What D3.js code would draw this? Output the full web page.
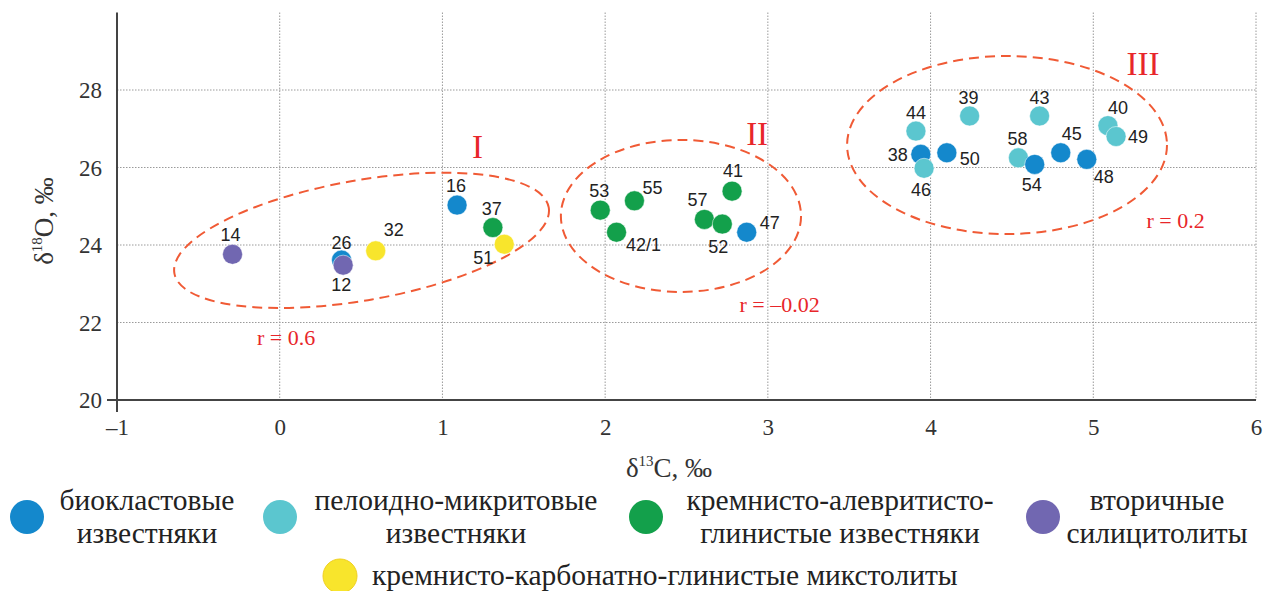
<!DOCTYPE html>
<html><head><meta charset="utf-8">
<script src="https://cdn.jsdelivr.net/npm/d3@7"></script>
<style>
body{margin:0;background:#fff;}
svg{display:block;}
</style></head>
<body>
<svg id="chart" width="1268" height="591"></svg>
<script>
// ---- data ----
const xTicks = [-1, 0, 1, 2, 3, 4, 5, 6];
const yTicks = [20, 22, 24, 26, 28];
const xTickLabels = ["–1", "0", "1", "2", "3", "4", "5", "6"];
const groups = ["bio", "pel", "krem", "vtor", "mikst"];
const groupColors = ["#1488cc", "#5bc6cf", "#13a04b", "#7167b1", "#f8e52c"];
const legendLines = [
  ["биокластовые", "известняки"],
  ["пелоидно-микритовые", "известняки"],
  ["кремнисто-алевритисто-", "глинистые известняки"],
  ["вторичные", "силицитолиты"],
  ["кремнисто-карбонатно-глинистые микстолиты"]
];
const sampleIds = ["14","26","12","32","16","37","51","53","55","42/1","57","52","41","47",
                   "44","38","46","39","50","43","58","54","45","48","40","49"];
const sampleGroup = ["vtor","bio","vtor","mikst","bio","krem","mikst","krem","krem","krem","krem","krem","krem","bio",
                     "pel","bio","pel","pel","bio","pel","pel","bio","bio","bio","pel","pel"];
const d13C = [-0.29, 0.38, 0.39, 0.59, 1.09, 1.31, 1.38, 1.97, 2.18, 2.07, 2.61, 2.72, 2.78, 2.87,
              3.91, 3.94, 3.96, 4.24, 4.10, 4.67, 4.54, 4.64, 4.80, 4.96, 5.09, 5.14];
const d18O = [23.76, 23.61, 23.48, 23.85, 25.03, 24.45, 24.02, 24.90, 25.14, 24.33, 24.66, 24.54, 25.39, 24.33,
              26.94, 26.34, 25.98, 27.33, 26.38, 27.33, 26.25, 26.08, 26.38, 26.21, 27.08, 26.80];
// clusters (ellipses) in data units
const clusterNames = ["I", "II", "III"];
const clusterCx = [0.503, 2.466, 4.470];
const clusterCy = [24.12, 24.75, 26.58];
const clusterRx = [1.168, 0.738, 0.983];
const clusterRy = [1.548, 1.961, 2.297];
const clusterAngle = [-10, 0, 0];
const clusterLabelX = [1.216, 2.934, 5.306];
const clusterLabelY = [26.25, 26.58, 28.39];
const corrText = ["r = 0.6", "r = –0.02", "r = 0.2"];
const corrX = [0.039, 3.072, 5.506];
const corrY = [21.42, 22.27, 24.44];

// ---- layout / style (not data) ----
const labelOffset = {
  "14":[-2,-20],"26":[0,-18],"12":[-2,19],"32":[18,-21],"16":[-1,-20],"37":[-1,-19],"51":[-21,13],
  "53":[-1,-20],"55":[18,-13],"42/1":[27,12],"57":[-7,-20],"52":[-4,22],"41":[1,-21],"47":[23,-10],
  "44":[0,-19],"38":[-23,0],"46":[-3,21],"39":[-1,-18],"50":[23,6],"43":[0,-18],"58":[-1,-19],
  "54":[-3,20],"45":[11,-19],"48":[17,17],"40":[10,-18],"49":[22,0]
};
const legendPos = [[27,517,147],[280,517,456],[646,517,840],[1043,517,1157],[340,576,372]];

const svg = d3.select("#chart");
const x = d3.scaleLinear().domain([-1, 6]).range([117, 1256]);
const y = d3.scaleLinear().domain([20, 30]).range([400, 12.5]);
const color = d3.scaleOrdinal().domain(groups).range(groupColors);
const serif = "Liberation Serif, Times New Roman, DejaVu Serif, serif";
const sans = "Liberation Sans, Arial, sans-serif";

// grid
const grid = svg.append("g");
grid.selectAll(".vg").data(xTicks.slice(1)).join("line")
  .attr("x1", d => x(d)).attr("x2", d => x(d))
  .attr("y1", y(30)).attr("y2", y(20))
  .attr("stroke", "#9a9a9a").attr("stroke-width", 1).attr("stroke-dasharray", "1.5,1.5");
grid.selectAll(".hg").data(yTicks.slice(1)).join("line")
  .attr("x1", x(-1)).attr("x2", x(6))
  .attr("y1", d => y(d)).attr("y2", d => y(d))
  .attr("stroke", "#9a9a9a").attr("stroke-width", 1).attr("stroke-dasharray", "1.5,1.5");

// axes
const xAxis = d3.axisBottom(x).tickValues(xTicks).tickSize(0).tickPadding(0)
  .tickFormat((d, i) => xTickLabels[i]);
const gx = svg.append("g").attr("transform", `translate(0,${y(20)})`).call(xAxis);
gx.attr("font-family", serif);
gx.select(".domain").remove();
gx.selectAll("text").style("font-family", serif).attr("font-size", 23).attr("fill", "#333")
  .attr("dy", "1.52em");
const yAxis = d3.axisLeft(y).tickValues(yTicks).tickSize(0).tickPadding(15);
const gy = svg.append("g").attr("transform", `translate(${x(-1)},0)`).call(yAxis);
gy.attr("font-family", serif);
gy.select(".domain").remove();
gy.selectAll("text").style("font-family", serif).attr("font-size", 23).attr("fill", "#333")
  .attr("dy", "0.34em");
svg.append("line").attr("x1", x(-1) - 10).attr("x2", x(6)).attr("y1", y(20)).attr("y2", y(20))
  .attr("stroke", "#444").attr("stroke-width", 2);
svg.append("line").attr("x1", x(-1)).attr("x2", x(-1)).attr("y1", y(30)).attr("y2", y(20) + 12)
  .attr("stroke", "#444").attr("stroke-width", 2);

// axis titles
const xt = svg.append("text").attr("x", 669).attr("y", 477).attr("text-anchor", "middle")
  .style("font-family", serif).attr("font-size", 27).attr("fill", "#333");
xt.append("tspan").text("δ");
xt.append("tspan").attr("font-size", 15).attr("dy", -11).text("13");
xt.append("tspan").attr("dy", 11).text("C, ‰");
const yt = svg.append("text").attr("transform", "translate(53,221) rotate(-90)").attr("text-anchor", "middle")
  .style("font-family", serif).attr("font-size", 27).attr("fill", "#333");
yt.append("tspan").text("δ");
yt.append("tspan").attr("font-size", 15).attr("dy", -11).text("18");
yt.append("tspan").attr("dy", 11).text("O, ‰");

// cluster ellipses
const clusters = clusterNames.map((n, i) => ({n, i}));
const kx = x(1) - x(0), ky = y(20) - y(21);
svg.append("g").selectAll("ellipse").data(clusters).join("ellipse")
  .attr("transform", d => `translate(${x(clusterCx[d.i])},${y(clusterCy[d.i])}) rotate(${clusterAngle[d.i]})`)
  .attr("rx", d => clusterRx[d.i] * kx).attr("ry", d => clusterRy[d.i] * ky)
  .attr("fill", "none").attr("stroke", "#f05a35").attr("stroke-width", 2)
  .attr("stroke-dasharray", "10,6");
svg.append("g").selectAll("text").data(clusters).join("text")
  .attr("x", d => x(clusterLabelX[d.i])).attr("y", d => y(clusterLabelY[d.i]))
  .attr("text-anchor", "middle").style("font-family", serif).attr("font-size", 33)
  .attr("fill", "#e8262a").text(d => d.n);
svg.append("g").selectAll("text").data(clusters).join("text")
  .attr("x", d => x(corrX[d.i])).attr("y", d => y(corrY[d.i]))
  .attr("text-anchor", "middle").style("font-family", serif).attr("font-size", 22)
  .attr("fill", "#e8262a").text(d => corrText[d.i]);

// points
const pts = sampleIds.map((id, i) => ({id, g: sampleGroup[i], cx: d13C[i], cy: d18O[i]}));
svg.append("g").selectAll("circle").data(pts).join("circle")
  .attr("cx", d => x(d.cx)).attr("cy", d => y(d.cy)).attr("r", 10)
  .attr("fill", d => color(d.g)).attr("stroke", "#fff").attr("stroke-opacity", 0.5).attr("stroke-width", 1);
svg.append("g").selectAll("text").data(pts).join("text")
  .attr("x", d => x(d.cx) + labelOffset[d.id][0]).attr("y", d => y(d.cy) + labelOffset[d.id][1])
  .attr("dy", "0.36em").attr("text-anchor", "middle")
  .style("font-family", sans).attr("font-size", 18).attr("fill", "#222").text(d => d.id);

// legend
const lg = svg.append("g");
groups.forEach((g, i) => {
  const [cx, cy, tx] = legendPos[i];
  lg.append("circle").attr("cx", cx).attr("cy", cy).attr("r", 17).attr("fill", color(g))
    .attr("stroke", g === "mikst" ? "#f0d020" : "none").attr("stroke-width", 1);
  const lines = legendLines[i];
  const t = lg.append("text").style("font-family", serif).attr("font-size", 29.5).attr("fill", "#222")
    .attr("text-anchor", lines.length > 1 ? "middle" : "start");
  lines.forEach((l, j) => {
    t.append("tspan").attr("x", tx).attr("y", lines.length > 1 ? 510 + j * 33 : 585).text(l);
  });
});
</script>
</body></html>
